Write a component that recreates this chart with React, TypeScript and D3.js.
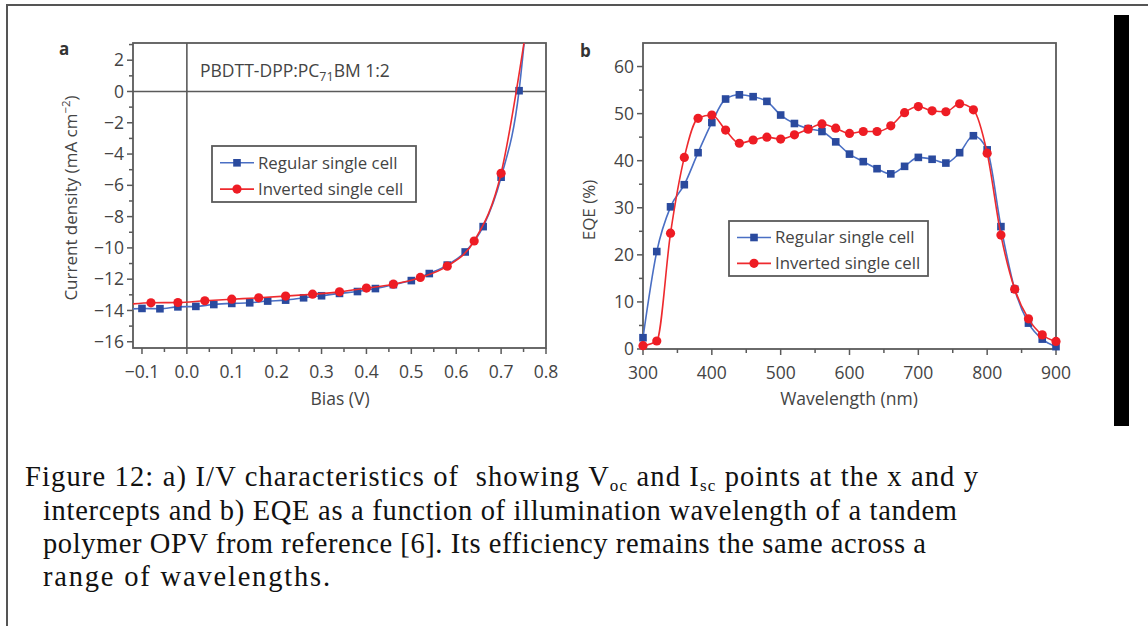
import React from 'react';
import * as d3 from 'd3';

// panel a: J-V curves
const biasRegular = [-0.1, -0.06, -0.02, 0.02, 0.06, 0.1, 0.14, 0.18, 0.22, 0.26, 0.3, 0.34, 0.38, 0.42, 0.46, 0.5, 0.54, 0.58, 0.62, 0.66, 0.7, 0.74];
const jRegular = [-13.87, -13.89, -13.77, -13.74, -13.62, -13.55, -13.51, -13.4, -13.34, -13.19, -13.06, -12.91, -12.79, -12.6, -12.35, -12.09, -11.64, -11.1, -10.26, -8.64, -5.48, 0.05];
const biasInverted = [-0.08, -0.02, 0.04, 0.1, 0.16, 0.22, 0.28, 0.34, 0.4, 0.46, 0.52, 0.58, 0.64, 0.7];
const jInverted = [-13.51, -13.49, -13.38, -13.28, -13.19, -13.08, -12.96, -12.81, -12.57, -12.32, -11.89, -11.17, -9.56, -5.23];
// where the fitted lines leave the frame (line only, no marker)
const edgeBias = [-0.12, 0.752];
const edgeRegular = [-13.9, 3.3];
const edgeInverted = [-13.58, 3.3];

// panel b: EQE spectra
const wavelength = [300, 320, 340, 360, 380, 400, 420, 440, 460, 480, 500, 520, 540, 560, 580, 600, 620, 640, 660, 680, 700, 720, 740, 760, 780, 800, 820, 840, 860, 880, 900];
const eqeRegular = [2.4, 20.7, 30.2, 34.9, 41.7, 48.1, 53.1, 54.0, 53.6, 52.6, 49.7, 47.9, 46.8, 46.2, 44.0, 41.4, 39.8, 38.3, 37.2, 38.8, 40.7, 40.3, 39.5, 41.7, 45.3, 42.3, 26.0, 12.7, 5.5, 2.1, 0.5];
const eqeInverted = [0.7, 1.7, 24.6, 40.7, 49.0, 49.7, 46.5, 43.7, 44.4, 45.0, 44.6, 45.5, 46.7, 47.8, 46.9, 45.8, 46.2, 46.2, 47.4, 50.2, 51.5, 50.6, 50.4, 52.1, 50.8, 41.6, 24.2, 12.7, 6.4, 3.0, 1.6];

const legendLabels = ['Regular single cell', 'Inverted single cell'];

const blueLine = '#4a6fc4';
const blueMark = '#2a4a9e';
const redLine = '#ee2a2e';
const redMark = '#ee1c24';
const axisCol = '#5a5a5a';
const textCol = '#444';
const sans = '"Open Sans", "Noto Sans", sans-serif';
const serif = '"Liberation Serif", "DejaVu Serif", serif';

const fmt = (v: number, d: number) => (v < 0 ? '\u2212' : '') + Math.abs(v).toFixed(d);

function Square({ x, y }: { x: number; y: number }) {
  return <rect x={x - 3.8} y={y - 3.8} width={7.6} height={7.6} fill={blueMark} />;
}
function Dot({ x, y }: { x: number; y: number }) {
  return <circle cx={x} cy={y} r={4.6} fill={redMark} />;
}

function Legend({ x, y, w, h }: { x: number; y: number; w: number; h: number }) {
  return (
    <g transform={`translate(${x},${y})`}>
      <rect width={w} height={h} fill="white" stroke={axisCol} strokeWidth={1.8} />
      {legendLabels.map((lab, i) => {
        const cy = h * (0.3 + i * 0.47);
        return (
          <g key={lab}>
            <line x1={8} x2={42} y1={cy} y2={cy} stroke={i ? redLine : blueLine} strokeWidth={1.6} />
            {i ? <Dot x={25} y={cy} /> : <Square x={25} y={cy} />}
            <text x={46} y={cy} dy="0.34em" fontSize={16.8} fill={textCol} fontFamily={sans}>{lab}</text>
          </g>
        );
      })}
    </g>
  );
}

function Axes({ x, y, xMajor, xMinor, yMajor, yMinor, xDec, yDec }: any) {
  const [x0, x1] = x.range();
  const [y0, y1] = y.range();
  return (
    <g fontFamily={sans} fontSize={17.5} fill={textCol}>
      {xMajor.map((t: number) => (
        <g key={'xm' + t}>
          <line x1={x(t)} x2={x(t)} y1={y0} y2={y0 + 6} stroke={axisCol} strokeWidth={1.5} />
          <text x={x(t)} y={y0 + 24} dy="0.35em" textAnchor="middle">{fmt(t, xDec)}</text>
        </g>
      ))}
      {xMinor.map((t: number) => (
        <line key={'xn' + t} x1={x(t)} x2={x(t)} y1={y0} y2={y0 + 4} stroke={axisCol} strokeWidth={1.5} />
      ))}
      {yMajor.map((t: number) => (
        <g key={'ym' + t}>
          <line x1={x0 - 6} x2={x0} y1={y(t)} y2={y(t)} stroke={axisCol} strokeWidth={1.5} />
          <text x={x0 - 9} y={y(t)} dy="0.35em" textAnchor="end">{fmt(t, yDec)}</text>
        </g>
      ))}
      {yMinor.map((t: number) => (
        <line key={'yn' + t} x1={x0 - 4} x2={x0} y1={y(t)} y2={y(t)} stroke={axisCol} strokeWidth={1.5} />
      ))}
      <rect x={x0} y={y1} width={x1 - x0} height={y0 - y1} fill="none" stroke={axisCol} strokeWidth={1.8} />
    </g>
  );
}

export default function App() {
  // panel a
  const xA = d3.scaleLinear().domain([-0.12, 0.8]).range([133, 546]);
  const yA = d3.scaleLinear().domain([-16.4, 3.1]).range([348, 43]);
  // panel b
  const xB = d3.scaleLinear().domain([300, 900]).range([643, 1056]);
  const yB = d3.scaleLinear().domain([0, 65]).range([349, 43]);

  const lineA = d3.line<[number, number]>().x(d => xA(d[0])).y(d => yA(d[1])).curve(d3.curveMonotoneX);
  const lineB = d3.line<[number, number]>().x(d => xB(d[0])).y(d => yB(d[1])).curve(d3.curveMonotoneX);

  const regA: [number, number][] = [[edgeBias[0], edgeRegular[0]], ...biasRegular.map((b, i) => [b, jRegular[i]] as [number, number]), [edgeBias[1], edgeRegular[1]]];
  const invA: [number, number][] = [[edgeBias[0], edgeInverted[0]], ...biasInverted.map((b, i) => [b, jInverted[i]] as [number, number]), [edgeBias[1], edgeInverted[1]]];
  const regB: [number, number][] = wavelength.map((w, i) => [w, eqeRegular[i]]);
  const invB: [number, number][] = wavelength.map((w, i) => [w, eqeInverted[i]]);

  const xMajA = d3.range(-0.1, 0.81, 0.1).map(v => +v.toFixed(2));
  const xMinA = d3.range(-0.05, 0.8, 0.1).map(v => +v.toFixed(2));
  const yMajA = d3.range(-16, 2.1, 2);
  const yMinA = d3.range(-15, 3.1, 2);
  const xMajB = d3.range(300, 901, 100);
  const xMinB = d3.range(350, 900, 100);
  const yMajB = d3.range(0, 61, 10);
  const yMinB = d3.range(5, 60, 10);

  return (
    <svg width={1148} height={626} style={{ position: 'absolute', left: 0, top: 0, background: 'white' }}>
      <defs>
        <clipPath id="clipA"><rect x={133} y={43} width={413} height={305} /></clipPath>
        <clipPath id="clipB"><rect x={643} y={43} width={413} height={306} /></clipPath>
      </defs>
      {/* page frame */}
      <path d="M7,626 V5 H1148" fill="none" stroke="#555" strokeWidth={2} />
      <rect x={1114} y={15} width={15} height={411} fill="black" />

      {/* ---- panel a ---- */}
      <text x={59} y={49} dy="0.35em" fontFamily={sans} fontWeight="bold" fontSize={17} fill="#333">a</text>
      <Axes x={xA} y={yA} xMajor={xMajA} xMinor={xMinA} yMajor={yMajA} yMinor={yMinA} xDec={1} yDec={0} />
      <line x1={xA(0)} x2={xA(0)} y1={43} y2={348} stroke={axisCol} strokeWidth={1.6} />
      <line x1={133} x2={546} y1={yA(0)} y2={yA(0)} stroke={axisCol} strokeWidth={1.6} />
      <text x={200} y={71} dy="0.35em" fontFamily={sans} fontSize={17.5} fill={textCol}>
        PBDTT-DPP:PC<tspan fontSize={12.5} dy="4">71</tspan><tspan dy="-4">BM 1:2</tspan>
      </text>
      <g clipPath="url(#clipA)">
        <path d={lineA(regA) || ''} fill="none" stroke={blueLine} strokeWidth={1.6} />
      </g>
      {biasRegular.map((b, i) => <Square key={'ra' + i} x={xA(b)} y={yA(jRegular[i])} />)}
      <g clipPath="url(#clipA)">
        <path d={lineA(invA) || ''} fill="none" stroke={redLine} strokeWidth={1.6} />
      </g>
      {biasInverted.map((b, i) => <Dot key={'ia' + i} x={xA(b)} y={yA(jInverted[i])} />)}
      <Legend x={212} y={146} w={204} h={56} />
      <text x={340} y={399} dy="0.35em" textAnchor="middle" fontFamily={sans} fontSize={17.5} fill={textCol}>Bias (V)</text>
      <text transform="translate(71,198) rotate(-90)" textAnchor="middle" dy="0.35em" fontFamily={sans} fontSize={17} fill={textCol}>
        Current density (mA cm<tspan fontSize={11.5} dy="-7">−2</tspan><tspan dy="7">)</tspan>
      </text>

      {/* ---- panel b ---- */}
      <text x={580} y={51} dy="0.35em" fontFamily={sans} fontWeight="bold" fontSize={17} fill="#333">b</text>
      <Axes x={xB} y={yB} xMajor={xMajB} xMinor={xMinB} yMajor={yMajB} yMinor={yMinB} xDec={0} yDec={0} />
      <g clipPath="url(#clipB)">
        <path d={lineB(regB) || ''} fill="none" stroke={blueLine} strokeWidth={1.6} />
      </g>
      {wavelength.map((w, i) => <Square key={'rb' + i} x={xB(w)} y={yB(eqeRegular[i])} />)}
      <g clipPath="url(#clipB)">
        <path d={lineB(invB) || ''} fill="none" stroke={redLine} strokeWidth={1.6} />
      </g>
      {wavelength.map((w, i) => <Dot key={'ib' + i} x={xB(w)} y={yB(eqeInverted[i])} />)}
      <Legend x={729} y={221} w={199} h={55} />
      <text x={849} y={399} dy="0.35em" textAnchor="middle" fontFamily={sans} fontSize={17.5} fill={textCol}>Wavelength (nm)</text>
      <text transform="translate(589,210) rotate(-90)" textAnchor="middle" dy="0.35em" fontFamily={sans} fontSize={17} fill={textCol}>EQE (%)</text>

      {/* ---- caption ---- */}
      <g fontFamily={serif} fontSize={28.5} fill="#111">
        <text x={25} y={486} textLength={953} lengthAdjust="spacing">
          {'Figure 12: a) I/V characteristics of \u00a0showing V'}<tspan fontSize={17} dy="5">oc</tspan><tspan dy="-5"> and I</tspan><tspan fontSize={17} dy="5">sc</tspan><tspan dy="-5"> points at the x and y</tspan>
        </text>
        <text x={43} y={519.5} textLength={914} lengthAdjust="spacing">intercepts and b) EQE as a function of illumination wavelength of a tandem</text>
        <text x={43} y={553} textLength={883} lengthAdjust="spacing">polymer OPV from reference [6]. Its efficiency remains the same across a</text>
        <text x={43} y={586} textLength={287} lengthAdjust="spacing">range of wavelengths.</text>
      </g>
    </svg>
  );
}
